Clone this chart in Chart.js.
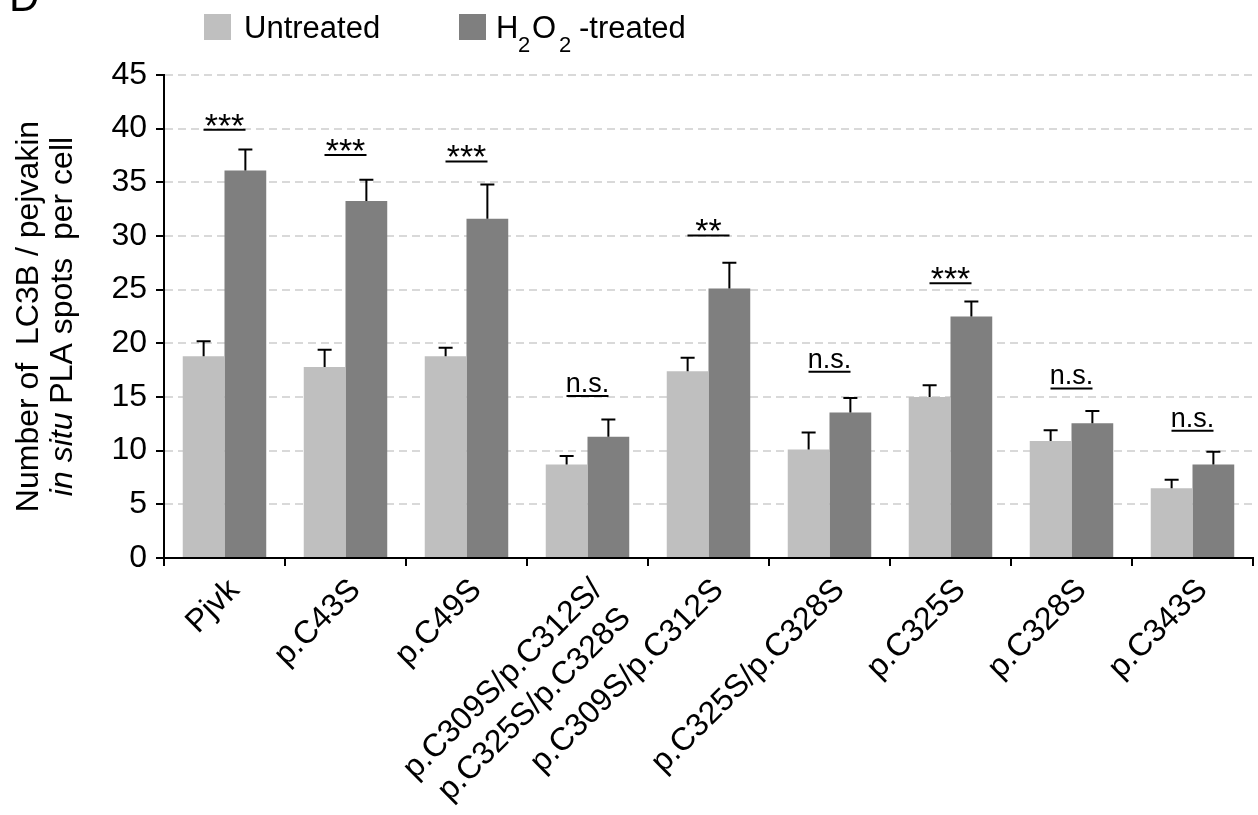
<!DOCTYPE html>
<html><head><meta charset="utf-8">
<script src="https://cdn.jsdelivr.net/npm/chart.js@4.4.1/dist/chart.umd.min.js"></script>
<style>html,body{margin:0;padding:0;background:#fff;overflow:hidden}#wrap{width:1258px;height:815px}</style>
</head><body><div id="wrap"><canvas id="c" width="1258" height="815"></canvas></div>
<script>
const categories = ['Pjvk', 'p.C43S', 'p.C49S', ['p.C309S/p.C312S/', 'p.C325S/p.C328S'], 'p.C309S/p.C312S', 'p.C325S/p.C328S', 'p.C325S', 'p.C328S', 'p.C343S'];
const untreated = [18.8, 17.8, 18.8, 8.7, 17.4, 10.1, 15.0, 10.9, 6.5];
const untreatedErr = [1.4, 1.6, 0.8, 0.8, 1.25, 1.6, 1.1, 1.0, 0.8];
const treated = [36.1, 33.25, 31.6, 11.3, 25.1, 13.55, 22.5, 12.55, 8.7];
const treatedErr = [1.95, 2.0, 3.2, 1.6, 2.4, 1.35, 1.4, 1.15, 1.2];
const sigLabels = ['***', '***', '***', 'n.s.', '**', 'n.s.', '***', 'n.s.', 'n.s.'];
const sigLevels = [39.9, 37.55, 36.95, 15.1, 30.05, 17.35, 25.6, 15.8, 11.85];
const yTicks = [0, 5, 10, 15, 20, 25, 30, 35, 40, 45];
const seriesNames = ['Untreated', 'H2O2-treated'];
const colors = ['#bfbfbf', '#7f7f7f'];

const FF = '"Liberation Sans", Arial, sans-serif';

const errorBars = {
  id: 'errorBars',
  afterDatasetsDraw(chart) {
    const ctx = chart.ctx, y = chart.scales.y;
    [untreatedErr, treatedErr].forEach((errs, di) => {
      const meta = chart.getDatasetMeta(di);
      meta.data.forEach((bar, i) => {
        const v = chart.data.datasets[di].data[i];
        const top = y.getPixelForValue(v + errs[i]);
        ctx.save();
        ctx.strokeStyle = '#000'; ctx.lineWidth = 2;
        ctx.beginPath();
        ctx.moveTo(bar.x, bar.y); ctx.lineTo(bar.x, top);
        ctx.moveTo(bar.x - 7, top); ctx.lineTo(bar.x + 7, top);
        ctx.stroke();
        ctx.restore();
      });
    });
  }
};

const sigMarks = {
  id: 'sigMarks',
  afterDatasetsDraw(chart) {
    const ctx = chart.ctx, x = chart.scales.x, y = chart.scales.y;
    ctx.save();
    sigLabels.forEach((lab, i) => {
      const cx = x.getPixelForValue(i);
      const ly = y.getPixelForValue(sigLevels[i]);
      ctx.strokeStyle = '#000'; ctx.lineWidth = 2;
      ctx.beginPath(); ctx.moveTo(cx - 21, ly); ctx.lineTo(cx + 21, ly); ctx.stroke();
      ctx.font = (lab.startsWith('*') ? '34px ' : '27px ') + FF;
      ctx.fillStyle = '#000'; ctx.textAlign = 'center'; ctx.textBaseline = 'alphabetic';
      const m = ctx.measureText(lab);
      ctx.fillText(lab, cx, ly - 4 - m.actualBoundingBoxDescent);
    });
    ctx.restore();
  }
};

const decor = {
  id: 'decor',
  afterDraw(chart) {
    const ctx = chart.ctx, ca = chart.chartArea;
    ctx.save();
    ctx.fillStyle = '#000';
    ctx.font = '42px ' + FF; ctx.textAlign = 'left'; ctx.textBaseline = 'alphabetic';
    ctx.fillText('D', 9, 11);
    // legend
    ctx.fillStyle = colors[0]; ctx.fillRect(204, 14, 27, 26);
    ctx.fillStyle = colors[1]; ctx.fillRect(459, 14, 27, 26);
    ctx.fillStyle = '#000';
    ctx.font = '31px ' + FF;
    ctx.fillText(seriesNames[0], 244, 38);
    const parts = [['H', 31, 38, 496], ['2', 22, 52, 518], ['O', 31, 38, 532], ['2', 22, 52, 559], ['-treated', 31, 38, 579]];
    parts.forEach(p => { ctx.font = p[1] + 'px ' + FF; ctx.fillText(p[0], p[3], p[2]); });
    // y-axis title
    const cy = (ca.top + ca.bottom) / 2;
    ctx.save();
    ctx.translate(38, cy); ctx.rotate(-Math.PI / 2);
    ctx.font = '32px ' + FF; ctx.textAlign = 'center';
    ctx.fillText('Number of  LC3B / pejvakin', 0, 0);
    ctx.restore();
    ctx.save();
    ctx.translate(72, cy); ctx.rotate(-Math.PI / 2);
    const seg = [['in situ', 'italic 32px ' + FF], [' PLA spots  per cell', '32px ' + FF]];
    let tw = 0;
    seg.forEach(s => { ctx.font = s[1]; tw += ctx.measureText(s[0]).width; });
    let sx = -tw / 2; ctx.textAlign = 'left';
    seg.forEach(s => { ctx.font = s[1]; ctx.fillText(s[0], sx, 0); sx += ctx.measureText(s[0]).width; });
    ctx.restore();
    ctx.restore();
  }
};

new Chart(document.getElementById('c'), {
  type: 'bar',
  data: {
    labels: categories,
    datasets: [
      { label: seriesNames[0], data: untreated, backgroundColor: colors[0], borderWidth: 0, categoryPercentage: 0.69, barPercentage: 1 },
      { label: seriesNames[1], data: treated, backgroundColor: colors[1], borderWidth: 0, categoryPercentage: 0.69, barPercentage: 1 }
    ]
  },
  options: {
    responsive: false, animation: false, devicePixelRatio: 1,
    layout: { padding: { left: 0, top: 75, right: 5, bottom: 0 } },
    plugins: { legend: { display: false }, tooltip: { enabled: false }, title: { display: false } },
    scales: {
      x: {
        offset: true,
        grid: { display: true, drawOnChartArea: false, drawTicks: true, tickLength: 8, offset: true, color: '#000', lineWidth: 2 },
        border: { display: true, color: '#000', width: 2 },
        ticks: { autoSkip: false, minRotation: 45, maxRotation: 45, color: '#000', font: { family: FF, size: 32, lineHeight: 1.25 }, padding: 5, labelOffset: 10 },
        afterFit(s) { s.height = 257; }
      },
      y: {
        min: 0, max: 45,
        afterBuildTicks(s) { s.ticks = yTicks.map(v => ({ value: v })); },
        grid: { color: '#d9d9d9', lineWidth: 2, drawTicks: true, tickLength: 8, tickColor: '#000', tickBorderDash: [], tickWidth: 2 },
        border: { display: true, color: '#000', width: 2, dash: [8, 5] },
        ticks: { color: '#000', font: { family: FF, size: 32 }, padding: 9 },
        afterFit(s) { s.width = 164; }
      }
    }
  },
  plugins: [errorBars, sigMarks, decor]
});
</script></body></html>
